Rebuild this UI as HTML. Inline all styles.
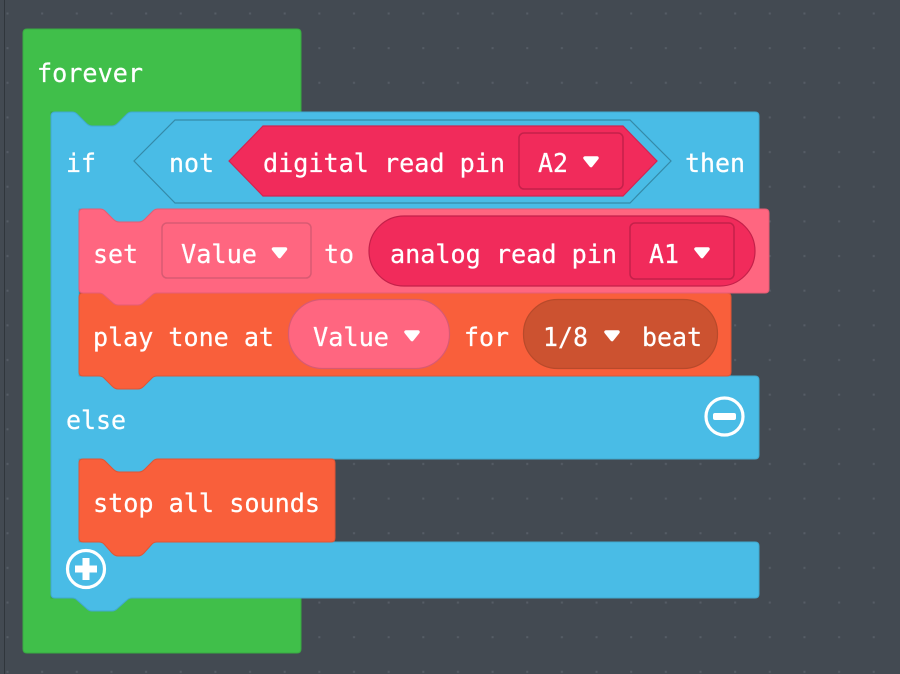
<!DOCTYPE html>
<html><head><meta charset="utf-8"><style>
html,body{margin:0;padding:0;width:900px;height:674px;overflow:hidden;background:#434a52}
svg{display:block;filter:blur(.35px)}
text{font-family:"DejaVu Sans Mono","Liberation Mono",monospace;font-size:25.500px;fill:#fff;stroke:#fff;stroke-width:.25px}
</style></head><body>
<svg width="900" height="674" viewBox="0 0 900 674" xmlns="http://www.w3.org/2000/svg">
<defs>
<pattern id="d" x="-10" y="-4" width="34.65" height="34.65" patternUnits="userSpaceOnUse"><rect x="16.5" y="16.5" width="2" height="2" fill="#565d66"/></pattern>
<path id="ar" d="M-6 -4H6L0 3.500Z" fill="#fff" stroke="#fff" stroke-width="3.500" stroke-linejoin="round"/>
</defs>
<rect width="900" height="674" fill="#434a52"/>
<rect width="900" height="674" fill="url(#d)"/>
<rect x="4" y="0" width="1" height="674" fill="#30363c"/>

<!-- forever -->
<path d="M27 29H297Q301 29 301 33V112H51V598H301V649Q301 653 297 653H27Q23 653 23 649V33Q23 29 27 29Z" fill="#40bf4a" stroke="#39ab42" stroke-width="1"/>
<rect x="70" y="108" width="66" height="22" fill="#40bf4a"/>

<!-- blue if -->
<path d="M55 112H72Q75 112 77 114L86 123Q89 126 92 126H112Q115 126 118 123L127 114Q129 112 132 112H755Q759 112 759 116V209H79V376H755Q759 376 759 380V455Q759 459 755 459H79V542H755Q759 542 759 546V594Q759 598 755 598H132Q129 598 127 600L118 608Q115 611 112 611H92Q89 611 86 608L77 600Q75 598 72 598H55Q51 598 51 594V116Q51 112 55 112Z" fill="#49bce6" stroke="#41a9cf" stroke-width="1"/>
<rect x="98" y="205" width="66" height="22" fill="#49bce6"/>
<rect x="98" y="455" width="66" height="22" fill="#49bce6"/>

<!-- not -->
<path d="M134 161L175 120H630L671 161L630 203H175Z" fill="#49bce6" stroke="#358aa8" stroke-width="1.200"/>
<!-- digital read -->
<path d="M229 161L263 126H623L657 161L623 196H263Z" fill="#f12b5b" stroke="#d12450" stroke-width="1.200"/>
<rect x="519" y="133" width="104" height="56" rx="5" fill="#f12b5b" stroke="#c4214a" stroke-width="1.500"/>

<!-- orange play -->
<path d="M83 293H727Q731 293 731 297V372Q731 376 727 376H157Q154 376 152 378L144 386Q141 389 138 389H118Q115 389 112 386L104 378Q102 376 99 376H83Q79 376 79 372V297Q79 293 83 293Z" fill="#f95f3b" stroke="#df5535" stroke-width="1"/>
<rect x="288.500" y="299.500" width="161" height="69" rx="34" fill="#ff6680" stroke="#d85a72" stroke-width="1.200"/>
<rect x="523.500" y="299.500" width="194" height="69" rx="34" fill="#cc5230" stroke="#b84a2b" stroke-width="1.200"/>

<!-- pink set -->
<path d="M83 209H100Q103 209 105 211L113 219Q116 222 119 222H139Q142 222 145 219L153 211Q155 209 158 209H765Q769 209 769 213V289Q769 293 765 293H157Q154 293 152 295L144 302Q141 305 138 305H118Q115 305 112 302L104 295Q102 293 99 293H83Q79 293 79 289V213Q79 209 83 209Z" fill="#ff6680" stroke="#e55c73" stroke-width="1"/>
<rect x="162" y="223" width="149" height="55" rx="5" fill="#ff6680" stroke="#d85a72" stroke-width="1.500"/>
<rect x="369" y="216" width="386" height="70" rx="35" fill="#f12b5b" stroke="#c4214a" stroke-width="1.200"/>
<rect x="630" y="223" width="104" height="56" rx="5" fill="#f12b5b" stroke="#c4214a" stroke-width="1.500"/>

<!-- orange stop -->
<path d="M83 459H100Q103 459 105 461L113 469Q116 472 119 472H139Q142 472 145 469L153 461Q155 459 158 459H331Q335 459 335 463V538Q335 542 331 542H157Q154 542 152 544L144 553Q141 556 138 556H118Q115 556 112 553L104 544Q102 542 99 542H83Q79 542 79 538V463Q79 459 83 459Z" fill="#f95f3b" stroke="#df5535" stroke-width="1"/>

<!-- icons -->
<circle cx="724.500" cy="416.500" r="18.500" fill="none" stroke="#fff" stroke-width="3.200"/>
<rect x="713" y="413" width="23" height="7" rx="2" fill="#fff"/>
<circle cx="86" cy="569" r="18.500" fill="none" stroke="#fff" stroke-width="3.200"/>
<path d="M82.500 558H89.500V565.500H97V572.500H89.500V580H82.500V572.500H75V565.500H82.500Z" fill="#fff"/>

<!-- arrows -->
<use href="#ar" x="591" y="162"/>
<use href="#ar" x="279.500" y="253"/>
<use href="#ar" x="702" y="253"/>
<use href="#ar" x="412" y="336"/>
<use href="#ar" x="612" y="336"/>

<!-- text -->
<text x="37" y="82" textLength="106" lengthAdjust="spacingAndGlyphs">forever</text>
<text x="66" y="172" textLength="30" lengthAdjust="spacingAndGlyphs">if</text>
<text x="169" y="172" textLength="45" lengthAdjust="spacingAndGlyphs">not</text>
<text x="263" y="172" textLength="242" lengthAdjust="spacingAndGlyphs">digital read pin</text>
<text x="538" y="172" textLength="30" lengthAdjust="spacingAndGlyphs">A2</text>
<text x="685" y="172" textLength="60" lengthAdjust="spacingAndGlyphs">then</text>
<text x="93" y="263" textLength="45" lengthAdjust="spacingAndGlyphs">set</text>
<text x="181" y="263" textLength="76" lengthAdjust="spacingAndGlyphs">Value</text>
<text x="324" y="263" textLength="30" lengthAdjust="spacingAndGlyphs">to</text>
<text x="390" y="263" textLength="227" lengthAdjust="spacingAndGlyphs">analog read pin</text>
<text x="649" y="263" textLength="30" lengthAdjust="spacingAndGlyphs">A1</text>
<text x="93" y="346" textLength="181" lengthAdjust="spacingAndGlyphs">play tone at</text>
<text x="313" y="346" textLength="76" lengthAdjust="spacingAndGlyphs">Value</text>
<text x="464" y="346" textLength="45" lengthAdjust="spacingAndGlyphs">for</text>
<text x="543" y="346" textLength="45" lengthAdjust="spacingAndGlyphs">1/8</text>
<text x="642" y="346" textLength="60" lengthAdjust="spacingAndGlyphs">beat</text>
<text x="66" y="429" textLength="60" lengthAdjust="spacingAndGlyphs">else</text>
<text x="93" y="512" textLength="227" lengthAdjust="spacingAndGlyphs">stop all sounds</text>
</svg>
</body></html>
